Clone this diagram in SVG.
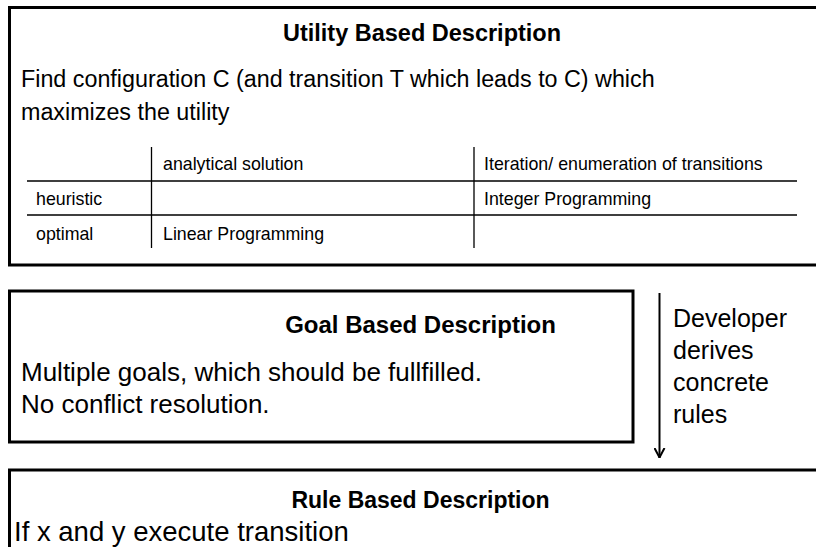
<svg xmlns="http://www.w3.org/2000/svg" width="816" height="547" viewBox="0 0 816 547">
<style>
text{font-family:"Liberation Sans",Arial,sans-serif;fill:#000}
.t{font-weight:bold;font-size:23.5px}
.b1{font-size:23.3px}
.b{font-size:26px}
.r{font-size:25px}
.s{font-size:17.8px}
.box{fill:#fff;stroke:#000;stroke-width:3}
.grid{stroke:#000;stroke-width:1.3;fill:none}
</style>
<defs>
<marker id="ah" markerWidth="10" markerHeight="12" refX="10" refY="6" orient="auto" markerUnits="userSpaceOnUse" viewBox="0 0 10 12">
<path d="M0,1 L9.5,6 L0,11" fill="none" stroke="#000" stroke-width="2"/>
</marker>
</defs>
<rect width="816" height="547" fill="#fff"/>
<g id="utility">
<rect class="box" x="9.5" y="7.5" width="820" height="257.5"/>
<text class="t" x="422" y="41" text-anchor="middle">Utility Based Description</text>
<text class="b1" x="21" y="87">Find configuration C (and transition T which leads to C) which</text>
<text class="b1" x="21" y="120">maximizes the utility</text>
<g id="table">
<path class="grid" d="M27,181H797M27,215H797M151.5,147V248M474,147V248"/>
<text class="s" x="163" y="170">analytical solution</text>
<text class="s" x="484" y="170">Iteration/ enumeration of transitions</text>
<text class="s" x="36" y="205">heuristic</text>
<text class="s" x="484" y="205">Integer Programming</text>
<text class="s" x="36" y="240">optimal</text>
<text class="s" x="163" y="240">Linear Programming</text>
</g>
</g>
<g id="goal">
<rect class="box" x="9.5" y="291" width="623.5" height="151"/>
<text class="t" x="420.5" y="333" text-anchor="middle" style="font-size:24px">Goal Based Description</text>
<text class="b" x="21" y="381">Multiple goals, which should be fullfilled.</text>
<text class="b" x="21" y="413">No conflict resolution.</text>
</g>
<g id="rule">
<rect class="box" x="9.5" y="470" width="820" height="100"/>
<text class="t" x="420.5" y="508" text-anchor="middle" style="font-size:23px">Rule Based Description</text>
<text class="b" x="14" y="541" style="font-size:27.5px">If x and y execute transition</text>
</g>
<g id="connectors">
<line x1="659.5" y1="293" x2="659.5" y2="458" stroke="#000" stroke-width="2" marker-end="url(#ah)"/>
<text class="r" x="673" y="327">Developer</text>
<text class="r" x="673" y="359">derives</text>
<text class="r" x="673" y="391">concrete</text>
<text class="r" x="673" y="423">rules</text>
</g>
</svg>
